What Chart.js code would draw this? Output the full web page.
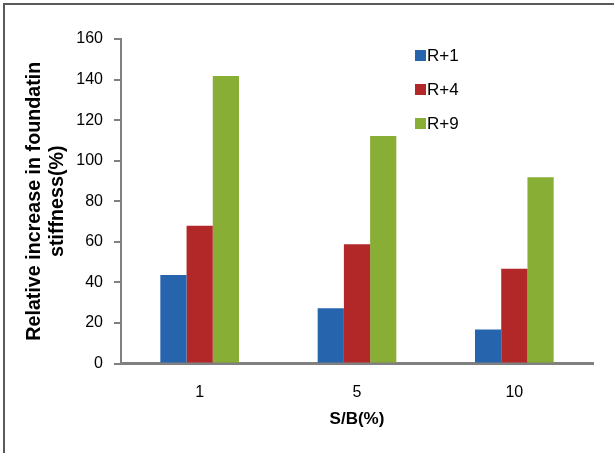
<!DOCTYPE html>
<html>
<head>
<meta charset="utf-8">
<script src="https://cdn.jsdelivr.net/npm/chart.js@4"></script>
<style>
  html, body { margin: 0; padding: 0; background: #fff; }
  #wrap { position: relative; width: 614px; height: 453px; overflow: hidden; }
  #frame {
    position: absolute; left: 3px; top: 3px; width: 700px; height: 600px;
    border-top: 2px solid #5a5a5a; border-left: 2px solid #5a5a5a;
    pointer-events: none;
  }
</style>
</head>
<body>
<div id="wrap">
  <canvas id="barChart" width="614" height="453"></canvas>
  <div id="frame"></div>
</div>
<script>
// S/B ratios on the x axis
const categories = ['1', '5', '10'];

// relative increase in foundation stiffness (%) per case
const seriesNames = ['R+1', 'R+4', 'R+9'];
const r1Values = [43.6, 27.2, 16.8];
const r4Values = [67.9, 58.8, 46.7];
const r9Values = [141.8, 112.2, 91.8];
const seriesColors = ['#2764ae', '#b22828', '#88ae36'];

const yTicks = [0, 20, 40, 60, 80, 100, 120, 140, 160];

const FONT = "'Liberation Sans', Arial, sans-serif";
const AXIS_GRAY = '#808080';

// legend stacked in the top right corner of the plot
const sideLegend = {
    id: 'sideLegend',
    afterDraw(chart) {
        const ctx = chart.ctx;
        ctx.save();
        ctx.font = `17px ${FONT}`;
        ctx.textBaseline = 'middle';
        chart.data.datasets.forEach((ds, i) => {
            const y = 55 + i * 34;
            ctx.fillStyle = ds.backgroundColor;
            ctx.fillRect(415, y - 5, 11, 11);
            ctx.fillStyle = '#000';
            ctx.fillText(ds.label, 427, y + 1);
        });
        ctx.restore();
    }
};

const datasets = [r1Values, r4Values, r9Values].map((vals, i) => ({
    label: seriesNames[i],
    data: vals,
    backgroundColor: seriesColors[i],
    borderWidth: 0
}));

new Chart(document.getElementById('barChart'), {
    type: 'bar',
    data: { labels: categories, datasets: datasets },
    options: {
        responsive: false,
        animation: false,
        events: [],
        layout: { padding: { left: 0, right: 21, top: 39, bottom: 0 } },
        datasets: {
            bar: { categoryPercentage: 0.5, barPercentage: 1.0 }
        },
        plugins: {
            legend: { display: false },
            tooltip: { enabled: false }
        },
        scales: {
            x: {
                grid: { display: false, drawTicks: false },
                border: { display: true, color: AXIS_GRAY, width: 3 },
                ticks: { color: '#000', font: { family: FONT, size: 16 }, padding: 19 },
                title: {
                    display: true,
                    text: 'S/B(%)',
                    color: '#000',
                    font: { family: FONT, size: 17, weight: 'bold' },
                    padding: { top: 0, bottom: 23 }
                },
                afterFit(scale) { scale.height = 89.5; }
            },
            y: {
                min: 0,
                max: 160,
                afterBuildTicks(scale) { scale.ticks = yTicks.map(v => ({ value: v })); },
                grid: { drawOnChartArea: false, drawTicks: true, tickLength: 7, color: AXIS_GRAY, lineWidth: 2 },
                border: { display: true, color: AXIS_GRAY, width: 2 },
                ticks: { color: '#000', font: { family: FONT, size: 16 }, padding: 11 },
                title: {
                    display: true,
                    text: ['Relative increase in foundatin', 'stiffness(%)'],
                    color: '#000',
                    font: { family: FONT, size: 19.7, weight: 'bold', lineHeight: 1.12 },
                    padding: { top: 24, bottom: 0 }
                },
                afterFit(scale) { scale.width = 121; }
            }
        }
    },
    plugins: [sideLegend]
});
</script>
</body>
</html>
